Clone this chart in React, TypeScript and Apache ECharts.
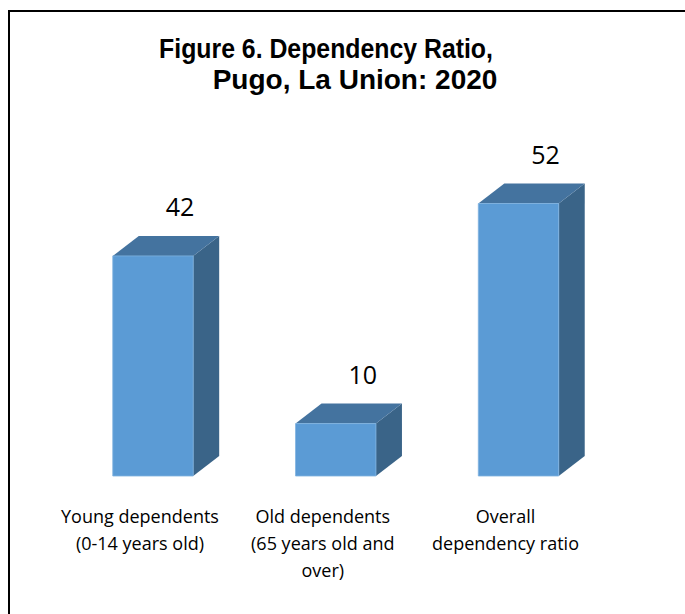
import React, { useEffect, useRef } from "react";
import * as echarts from "echarts";

const titleLines = ["Figure 6. Dependency Ratio,", "Pugo, La Union: 2020"];
const categories = [
  "Young dependents\n(0-14 years old)",
  "Old dependents\n(65 years old and\nover)",
  "Overall\ndependency ratio",
];
const values = [42, 10, 52];

const FRONT = "#5B9BD5";
const TOP = "#44739F";
const SIDE = "#3A6488";
const DX = 26;
const DY = 20;
const TITLE_FONT = "'Liberation Sans', Arial, sans-serif";

export default function App() {
  const ref = useRef<HTMLDivElement>(null);
  useEffect(() => {
    if (!ref.current) return;
    const chart = echarts.init(ref.current, undefined, { renderer: "svg" });
    chart.setOption({
      animation: false,
      backgroundColor: "#ffffff",
      graphic: [
        {
          type: "rect",
          shape: { x: 9, y: 11, width: 720, height: 720 },
          style: { fill: "none", stroke: "#000000", lineWidth: 2 },
          silent: true,
        },
        {
          type: "text",
          x: 326,
          y: 48.5,
          scaleX: 0.887,
          style: {
            x: 0,
            y: 0,
            text: titleLines[0],
            align: "center",
            verticalAlign: "middle",
            fontFamily: TITLE_FONT,
            fontWeight: "bold",
            fontSize: 28,
            fill: "#000000",
          },
        },
        {
          type: "text",
          x: 355,
          y: 79,
          style: {
            x: 0,
            y: 0,
            text: titleLines[1],
            align: "center",
            verticalAlign: "middle",
            fontFamily: TITLE_FONT,
            fontWeight: "bold",
            fontSize: 28,
            fill: "#000000",
          },
        },
      ],
      grid: { left: 61.6, right: 75.1, top: 161.6, bottom: 138 },
      xAxis: {
        type: "category",
        data: categories,
        axisLine: { show: false },
        axisTick: { show: false },
        splitLine: { show: false },
        axisLabel: {
          interval: 0,
          margin: 26,
          padding: [0, 26, 0, 0],
          fontFamily: "'Open Sans', sans-serif",
          fontSize: 18,
          lineHeight: 27,
          color: "#000000",
        },
      },
      yAxis: {
        type: "value",
        min: 0,
        max: 60,
        show: false,
        splitLine: { show: false },
      },
      series: [
        {
          type: "custom",
          data: values.map((v, i) => [i, v]),
          encode: { x: 0, y: 1 },
          renderItem: (params: any, api: any) => {
            const idx = api.value(0);
            const val = api.value(1);
            const top = api.coord([idx, val]);
            const base = api.coord([idx, 0]);
            const band = api.size([1, 0])[0];
            const w = band * 0.44;
            const x0 = top[0] - w / 2;
            const x1 = top[0] + w / 2;
            const yT = top[1];
            const yB = base[1];
            return {
              type: "group",
              children: [
                {
                  type: "polygon",
                  shape: {
                    points: [
                      [x1, yT],
                      [x1 + DX, yT - DY],
                      [x1 + DX, yB - DY],
                      [x1, yB],
                    ],
                  },
                  style: { fill: SIDE },
                },
                {
                  type: "polygon",
                  shape: {
                    points: [
                      [x0, yT],
                      [x0 + DX, yT - DY],
                      [x1 + DX, yT - DY],
                      [x1, yT],
                    ],
                  },
                  style: { fill: TOP },
                },
                {
                  type: "rect",
                  shape: { x: x0, y: yT, width: w, height: yB - yT },
                  style: { fill: FRONT, stroke: "#7FB2E0", lineWidth: 0.8 },
                },
                {
                  type: "text",
                  style: {
                    x: top[0] + DX + 1,
                    y: yT - DY - 30,
                    text: String(val),
                    align: "center",
                    verticalAlign: "middle",
                    fontFamily: "'Open Sans', sans-serif",
                    fontSize: 25,
                    fill: "#000000",
                  },
                },
              ],
            };
          },
        },
      ],
    });
    return () => chart.dispose();
  }, []);
  return (
    <div
      ref={ref}
      style={{ position: "fixed", left: 0, top: 0, width: 685, height: 614 }}
    />
  );
}
